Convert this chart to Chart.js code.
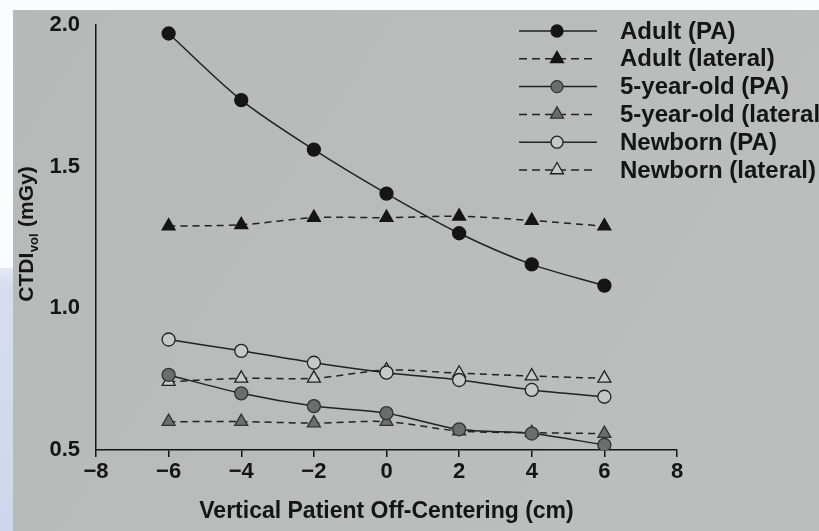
<!DOCTYPE html>
<html>
<head>
<meta charset="utf-8">
<script src="https://cdn.jsdelivr.net/npm/chart.js@4.4.1/dist/chart.umd.min.js"></script>
<style>
  html, body { margin: 0; padding: 0; background: #b8bcba; overflow: hidden; }
  #wrap { width: 819px; height: 531px; position: relative; }
</style>
</head>
<body>
<div id="wrap"><canvas id="c" width="819" height="531"></canvas></div>
<script>
// Vertical off-centering positions (cm)
const offsets = [-6, -4, -2, 0, 2, 4, 6];

// CTDIvol (mGy) per phantom and scout direction
const adultPA    = [1.97, 1.735, 1.56, 1.405, 1.265, 1.155, 1.08];
const adultLat   = [1.29, 1.295, 1.32, 1.32, 1.325, 1.31, 1.29];
const childPA    = [0.765, 0.70, 0.655, 0.63, 0.573, 0.558, 0.518];
const childLat   = [0.60, 0.60, 0.595, 0.60, 0.567, 0.561, 0.558];
const newbornPA  = [0.89, 0.85, 0.808, 0.773, 0.747, 0.712, 0.688];
const newbornLat = [0.741, 0.753, 0.753, 0.782, 0.771, 0.761, 0.753];

const seriesLabels = ['Adult (PA)', 'Adult (lateral)', '5-year-old (PA)',
                      '5-year-old (lateral)', 'Newborn (PA)', 'Newborn (lateral)'];

const xTicks = [-8, -6, -4, -2, 0, 2, 4, 6, 8];
const yTicks = [0.5, 1.0, 1.5, 2.0];

const xTitle = 'Vertical Patient Off-Centering (cm)';
const yTitleMain = 'CTDI';
const yTitleSub = 'vol';
const yTitleUnit = ' (mGy)';

const INK = '#151515';
const GREY_FILL = '#6c6e6d';
const HOLLOW = '#c6c9c7';
const DASH = [7, 5];
const FONT = '"Liberation Sans", Arial, Helvetica, sans-serif';

function pts(vals) { return offsets.map((x, i) => ({ x: x, y: vals[i] })); }

function series(label, vals, opts) {
  return Object.assign({
    label: label,
    data: pts(vals),
    borderColor: '#222',
    borderWidth: 1.5,
    tension: 0.3,
    fill: false,
    pointBorderWidth: 1.3
  }, opts);
}

const datasets = [
  series(seriesLabels[0], adultPA,   { pointStyle: 'circle',   pointRadius: 6.5, pointBackgroundColor: INK, pointBorderColor: INK }),
  series(seriesLabels[1], adultLat,  { pointStyle: 'triangle', pointRadius: 7.5, pointBackgroundColor: INK, pointBorderColor: INK, borderDash: DASH }),
  series(seriesLabels[2], childPA,   { pointStyle: 'circle',   pointRadius: 6.5, pointBackgroundColor: GREY_FILL, pointBorderColor: '#333' }),
  series(seriesLabels[3], childLat,  { pointStyle: 'triangle', pointRadius: 7.5, pointBackgroundColor: GREY_FILL, pointBorderColor: '#333', borderDash: DASH }),
  series(seriesLabels[4], newbornPA, { pointStyle: 'circle',   pointRadius: 6.5, pointBackgroundColor: HOLLOW, pointBorderColor: '#222' }),
  series(seriesLabels[5], newbornLat,{ pointStyle: 'triangle', pointRadius: 7.5, pointBackgroundColor: HOLLOW, pointBorderColor: '#222', borderDash: DASH })
];

// Paper background with the bright margins along the top and left edges
const backdrop = {
  id: 'backdrop',
  beforeDraw(chart) {
    const ctx = chart.ctx, w = chart.width, h = chart.height;
    ctx.save();
    const g = ctx.createLinearGradient(0, 0, w, h);
    g.addColorStop(0, '#b5b9b7');
    g.addColorStop(1, '#bcbfbd');
    ctx.fillStyle = g;
    ctx.fillRect(0, 0, w, h);
    ctx.fillStyle = '#fbfcfd';
    ctx.fillRect(0, 0, w, 10);
    ctx.fillRect(0, 0, 13, h);
    const b = ctx.createLinearGradient(0, 268, 0, h);
    b.addColorStop(0, '#e4e9f4');
    b.addColorStop(0.06, '#d6ddef');
    b.addColorStop(1, '#cdd6ec');
    ctx.fillStyle = b;
    ctx.fillRect(0, 268, 13, h - 268);
    ctx.restore();
  }
};

// Rotated y-axis title with subscript
const yTitle = {
  id: 'yTitle',
  afterDraw(chart) {
    const ctx = chart.ctx;
    ctx.save();
    const big = 'bold 21px ' + FONT, small = 'bold 13px ' + FONT;
    ctx.font = big;
    const w1 = ctx.measureText(yTitleMain).width;
    const w3 = ctx.measureText(yTitleUnit).width;
    ctx.font = small;
    const w2 = ctx.measureText(yTitleSub).width + 1;
    const total = w1 + w2 + w3;
    ctx.translate(33, 234);
    ctx.rotate(-Math.PI / 2);
    ctx.fillStyle = INK;
    ctx.textBaseline = 'alphabetic';
    ctx.textAlign = 'left';
    let x = -total / 2;
    ctx.font = big;
    ctx.fillText(yTitleMain, x, 0);
    x += w1;
    ctx.font = small;
    ctx.fillText(yTitleSub, x + 0.5, 5);
    x += w2;
    ctx.font = big;
    ctx.fillText(yTitleUnit, x, 0);
    ctx.restore();
  }
};

// Legend: line sample with marker, then the series name
const seriesKey = {
  id: 'seriesKey',
  afterDraw(chart) {
    const ctx = chart.ctx;
    ctx.save();
    chart.data.datasets.forEach((ds, i) => {
      const y = 31 + i * 27.8;
      ctx.strokeStyle = ds.borderColor;
      ctx.lineWidth = ds.borderWidth;
      ctx.setLineDash(ds.borderDash ? [8, 5] : []);
      ctx.beginPath();
      ctx.moveTo(519, y);
      ctx.lineTo(597, y);
      ctx.stroke();
      ctx.setLineDash([]);
      ctx.fillStyle = ds.pointBackgroundColor;
      ctx.strokeStyle = ds.pointBorderColor;
      ctx.lineWidth = ds.pointBorderWidth;
      const r = ds.pointStyle === 'circle' ? 6 : 7.5;
      const opts = { pointStyle: ds.pointStyle, radius: r, rotation: 0, borderWidth: ds.pointBorderWidth };
      if (Chart.helpers && Chart.helpers.drawPoint) {
        Chart.helpers.drawPoint(ctx, opts, 557, y);
      } else {
        ctx.beginPath();
        ctx.arc(557, y, r, 0, Math.PI * 2);
        ctx.fill();
        ctx.stroke();
      }
      ctx.fillStyle = INK;
      ctx.font = 'bold 24px ' + FONT;
      ctx.textBaseline = 'middle';
      ctx.textAlign = 'left';
      ctx.fillText(ds.label, 620, y + 1);
    });
    ctx.restore();
  }
};

const tickFont = { family: FONT, size: 22, weight: 'bold' };

new Chart(document.getElementById('c'), {
  type: 'line',
  data: { datasets: datasets },
  plugins: [backdrop, yTitle, seriesKey],
  options: {
    responsive: false,
    animation: false,
    devicePixelRatio: 1,
    layout: { padding: { top: 25, right: 142, bottom: 0, left: 0 } },
    plugins: { legend: { display: false }, tooltip: { enabled: false } },
    scales: {
      x: {
        type: 'linear',
        min: xTicks[0],
        max: xTicks[xTicks.length - 1],
        afterBuildTicks: s => { s.ticks = xTicks.map(v => ({ value: v })); },
        ticks: {
          color: INK,
          font: tickFont,
          padding: 2,
          maxRotation: 0,
          callback: v => (v < 0 ? '\u2212' + Math.abs(v) : String(v))
        },
        grid: { display: true, drawOnChartArea: false, drawTicks: true, tickLength: 7, color: INK, lineWidth: 1.5 },
        border: { display: true, color: INK, width: 1.5 },
        title: {
          display: true,
          text: xTitle,
          color: INK,
          font: { family: FONT, size: 23, weight: 'bold' },
          padding: { top: 6, bottom: 6 }
        },
        afterFit: s => { s.height = 81; }
      },
      y: {
        type: 'linear',
        min: yTicks[0],
        max: yTicks[yTicks.length - 1],
        afterBuildTicks: s => { s.ticks = yTicks.map(v => ({ value: v })); },
        ticks: {
          color: INK,
          font: tickFont,
          padding: 8,
          callback: v => Number(v).toFixed(1)
        },
        grid: { display: false },
        border: { display: true, color: INK, width: 1.5 },
        afterFit: s => { s.width = 96; }
      }
    }
  }
});
</script>
</body>
</html>
